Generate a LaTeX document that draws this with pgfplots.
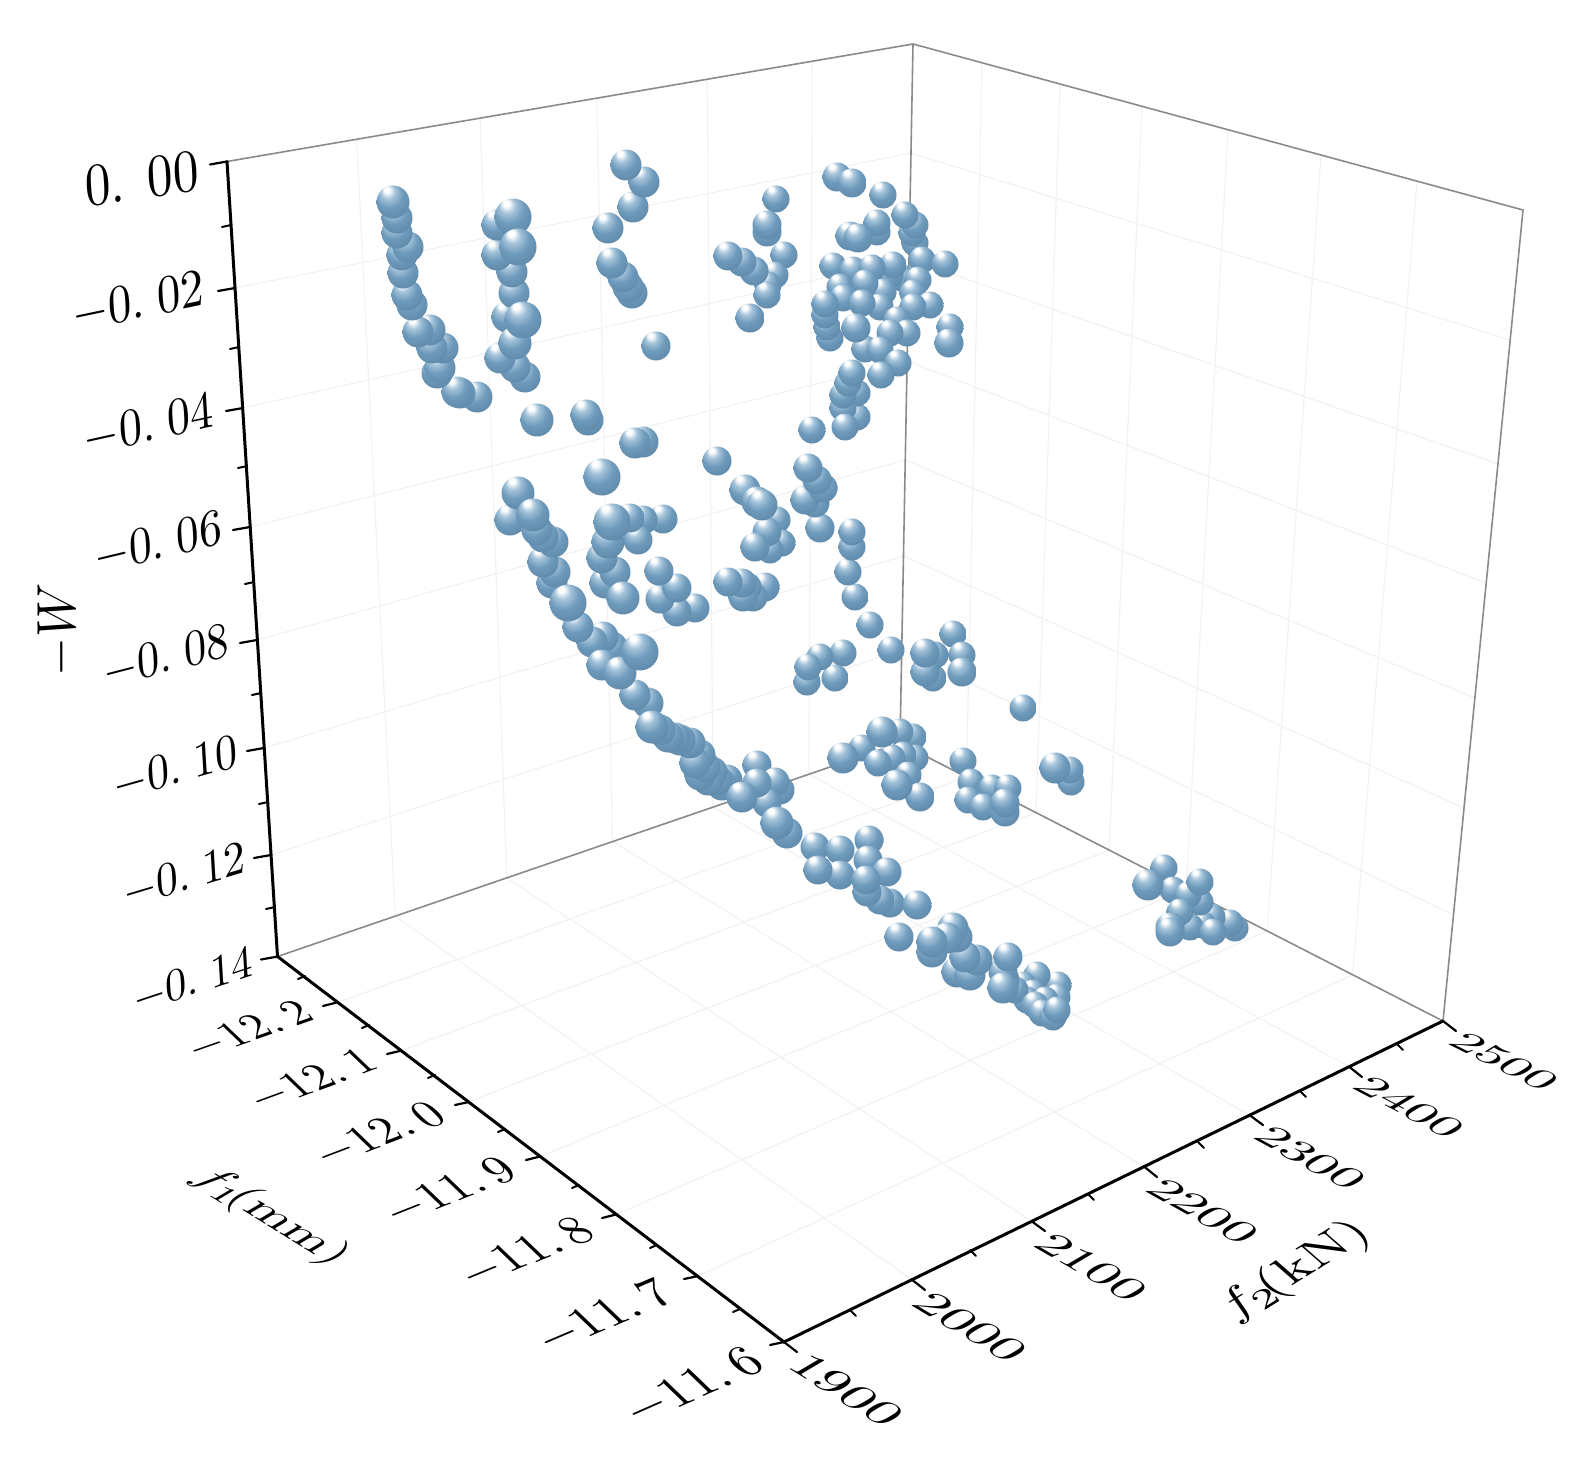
\documentclass[border=0pt]{standalone}
\usepackage{pgfplots}
\pgfplotsset{compat=1.18}
\definecolor{gridc}{HTML}{F2F2F2}
\definecolor{framec}{HTML}{8A8A8A}
\definecolor{ball1}{HTML}{A4C3DA}
\definecolor{ball2}{HTML}{6E9ABB}
\definecolor{ball3}{HTML}{5A83A3}
\definecolor{ball4}{HTML}{6C94B2}
% soft ball, lighter than tikz's own, which runs to black at the rim
\pgfdeclareradialshading{softball}{\pgfpoint{-10bp}{20bp}}{
  color(0bp)=(white); color(4bp)=(white); color(11bp)=(ball1);
  color(21bp)=(ball2); color(38bp)=(ball3); color(50bp)=(ball4)}
\pgfdeclareplotmark{softball}{%
  \pgfpathcircle{\pgfpointorigin}{\pgfplotmarksize}%
  \pgfshadepath{softball}{0}%
  \pgfusepath{discard}}
% The 3D box is drawn as seen: every position is in image pixels, y pointing down.
\pgfplotsset{
  balls/.style={only marks, mark=softball, mark size=#1pt},
  seg/.style={no markers, line cap=round},
}
\begin{document}
\begin{tikzpicture}[every node/.style={inner sep=0pt}]
\begin{axis}[
  scale only axis, width=1582pt, height=1466pt,
  xmin=0, xmax=1582, ymin=0, ymax=1466, y dir=reverse,
  unbounded coords=jump,
  hide axis, clip=false]
\path (0,0) rectangle (1582,1466);

% grid: floor
\addplot[seg, gridc, line width=1.2pt] coordinates {
 (337.6,1002.3) (966.4,777) (nan,nan) (401,1050.7) (1036,812.6) (nan,nan) (468.7,1102) (1109.2,850.1) (nan,nan)
 (540.2,1156.5) (1186.1,889.5) (nan,nan) (616.3,1214.4) (1267.2,931) (nan,nan) (697.7,1276.1) (1352.7,974.8) (nan,nan)
 (395.2,916.2) (912,1279.7) (nan,nan) (506.7,877.9) (1031.7,1221.3) (nan,nan) (612.5,841.6) (1144.1,1166.6) (nan,nan)
 (713.1,807.1) (1249.7,1115.2) (nan,nan) (808.8,774.3) (1349.1,1066.7)};
% grid: left wall
\addplot[seg, gridc, line width=1.2pt] coordinates {
 (395.2,916.2) (356.7,139.3) (nan,nan) (506.7,877.9) (480.1,118.1) (nan,nan) (612.5,841.6) (596.8,98.2) (nan,nan)
 (713.1,807.1) (707.2,79.3) (nan,nan) (808.8,774.3) (812.2,61.3) (nan,nan)
 (235,288) (911,153) (nan,nan) (242.7,408) (909,259) (nan,nan) (250.2,527) (907.1,361) (nan,nan)
 (257.4,640) (905.3,460) (nan,nan) (264.3,748) (903.5,556) (nan,nan) (271,855) (901.7,650)};
% grid: right wall
\addplot[seg, gridc, line width=1.2pt] coordinates {
 (966.4,777) (982,62.8) (nan,nan) (1036,812.6) (1060,84) (nan,nan) (1109.2,850.1) (1142,106.3) (nan,nan)
 (1186.1,889.5) (1228,129.7) (nan,nan) (1267.2,931) (1321,155) (nan,nan) (1352.7,974.8) (1417,181) (nan,nan)
 (911,153) (1510.2,340) (nan,nan) (909,259) (1498,464) (nan,nan) (907.1,361) (1486.2,583) (nan,nan)
 (905.3,460) (1474.9,698) (nan,nan) (903.5,556) (1464,808) (nan,nan) (901.7,650) (1453.5,915)};

% box edges at the back
\addplot[seg, framec, line width=1.6pt] coordinates {
 (227,161.5) (913,44) (1523,210) (1443,1021) (nan,nan) (913,44) (900,743) (nan,nan) (277.5,956.5) (900,743) (1443,1021)};

% axes and ticks
\addplot[seg, black, line width=3pt] coordinates {(227,161.5) (277.5,956.5) (784,1342) (1443,1021)};
\addplot[seg, black, line width=2.2pt] coordinates {
 (210,164.5) (227,161.5) (nan,nan) (218,291) (235,288) (nan,nan) (226,411) (243,408) (nan,nan) (233,530) (250,527) (nan,nan)
 (240,643) (257,640) (nan,nan) (247,751) (264,748) (nan,nan) (254,858) (271,855) (nan,nan) (261,959.5) (278,956.5) (nan,nan)
 (323,1006) (337.6,1002.3) (nan,nan) (387,1054) (401,1050.7) (nan,nan) (455,1105) (468.7,1102) (nan,nan)
 (526,1160) (540.2,1156.5) (nan,nan) (602,1218) (616.3,1214.4) (nan,nan) (684,1279) (697.7,1276.1) (nan,nan) (770,1345) (784,1342) (nan,nan)
 (784,1342) (797,1352) (nan,nan) (912,1279.7) (925,1290) (nan,nan) (1031.7,1221.3) (1045,1231) (nan,nan) (1144.1,1166.6) (1157,1177) (nan,nan)
 (1249.7,1115.2) (1263,1125) (nan,nan) (1349.1,1066.7) (1362,1077) (nan,nan) (1443,1021) (1456,1031)};
\addplot[seg, black, line width=2pt] coordinates {
 (222,227) (231,225) (nan,nan) (230,349) (239,347) (nan,nan) (238,468) (247,466) (nan,nan) (245,584) (254,582) (nan,nan)
 (252,695) (261,693) (nan,nan) (259,804) (268,802) (nan,nan) (266,909) (275,907) (nan,nan)
 (298,979) (305,976) (nan,nan) (362,1028) (369,1025) (nan,nan) (428,1078) (435,1075) (nan,nan) (498,1132) (505,1129) (nan,nan)
 (572,1188) (579,1185) (nan,nan) (650,1248) (657,1245) (nan,nan) (733,1312) (740,1309) (nan,nan)
 (850,1310) (856,1316) (nan,nan) (970,1250) (976,1256) (nan,nan) (1088,1194) (1094,1200) (nan,nan)
 (1198,1142) (1204,1148) (nan,nan) (1300,1091) (1306,1097) (nan,nan) (1397,1044) (1403,1050)};

% points, far and small ones first
\addplot[balls=13.5] coordinates {
 (776,199) (883,195) (915,243) (912,233) (915,225) (905,215) (877,232) (877,223) (922,260) (945,264) (833,266)
 (902,278) (918,280) (890,275) (893,265) (853,270) (872,268) (840,287) (883,292) (865,283) (913,293) (843,298)
 (930,305) (913,307) (880,307) (862,303) (830,338) (827,327) (825,315) (825,304) (897,320) (907,333) (890,333)
 (865,349) (880,350) (898,363) (881,375) (950,327) (857,417) (857,393) (843,408) (843,395) (848,383) (852,373)
 (845,427) (812,430) (784,255) (775,275) (768,285) (767,295) (777,520) (782,543) (770,550)
 (855,597) (848,572) (852,547) (852,532) (870,625) (843,653) (835,678) (820,657) (807,682) (808,667)
 (891,650) (953,634) (962,655) (933,678) (935,655) (1023,708) (862,748) (913,737) (900,732) (915,758) (903,755)
 (892,758) (878,763) (908,775) (963,761) (971,782) (968,800) (992,788) (983,807) (1008,788)
 (1071,782) (1070,770) (1058,985) (1057,997) (1037,975) (1023,985) (1033,993) (1027,1000) (1045,1000) (1015,990) (1035,1005) (1042,1013) (1053,1017) (1057,1010)
 (1164,868) (1173,890) (1235,928) (1230,923) (1212,917) (1203,925) (1190,927) (1200,902) (1188,895) (1200,882) (1180,912) (1213,932)};
\addplot[balls=14.5] coordinates {
 (837,177) (852,183) (767,232) (767,225) (754,271) (742,262) (728,256) (750,318) (850,236) (858,238) (856,328)
 (949,343) (820,528) (815,503) (805,500) (823,488) (817,480) (808,468) (767,532) (755,547)
 (765,587) (753,597) (747,587) (743,597) (742,583) (728,582) (717,461) (695,608) (677,612) (660,599) (677,588) (659,571)
 (663,519) (643,520) (638,540) (630,518) (656,346) (757,765) (780,790) (775,782) (767,803) (757,783)
 (920,797) (925,672) (925,653) (962,672) (1005,812) (1005,803) (815,847) (840,850) (869,840) (840,875) (818,870)
 (868,860) (887,872) (890,903) (880,900) (867,892) (866,880) (917,905) (899,937)
 (1005,980) (1003,972) (1008,957) (1170,927) (1170,932) };
\addplot[balls=15.5] coordinates {
 (477,397) (460,393) (457,392) (437,373) (440,368) (443,348) (432,348) (430,330) (418,332) (412,305) (407,295) (403,273) (402,255) (408,247)
 (525,377) (515,367) (500,358) (507,317) (514,293) (512,272) (497,255) (497,225)
 (632,293) (628,287) (623,277) (612,263) (608,228) (633,207) (644,182) (626,165) (643,442) (635,443) (588,420) (586,415)
 (745,490) (757,502) (762,505) (727,780) (722,785) (717,780) (712,772) (708,780) (700,775) (705,767) (700,755) (695,763) (690,743) (680,740) (675,738) (668,737) (660,730) (648,703) (635,695)
 (742,797) (843,758) (897,785) (882,732) (1055,768) (1148,885) (957,972) (970,975) (977,960) (965,957) (957,937) (953,928) (947,938) (932,952) (932,942)
 (1003,988) (787,833)
 (510,520) (612,647) (603,637) (592,642) (602,665) (578,627) (552,583) (555,572) (543,562) (553,542) (543,537) (537,530)
 (605,583) (615,572) (602,558)};
\addplot[balls=16.5] coordinates {
 (537,420) (515,343) (518,493) (533,515) (623,598) (608,542) (652,727) (620,673) (777,823)};
\addplot[balls=15.5] coordinates {(397,233) (397,218)};
\addplot[balls=16.5] coordinates {(393,202)};
\addplot[balls=18.5] coordinates {
 (513,217) (518,247) (523,320) (602,477) (568,603) (640,652)  (612,522)};

% tick labels of -W
\node[cm={5.1,.77,-.36,6,(0pt,0pt)}] at (142,179) {$0.\;\,00$};
\node[cm={4.63,.97,-.32,5.4,(0pt,0pt)}] at (138,303) {$-0.\;02$};
\node[cm={4.55,1.0,-.32,5.3,(0pt,0pt)}] at (148.5,426) {$-0.\;04$};
\node[cm={4.5,1.08,-.31,5.2,(0pt,0pt)}] at (158,544) {$-0.\;06$};
\node[cm={4.4,1.14,-.31,5.1,(0pt,0pt)}] at (166,658) {$-0.\;08$};
\node[cm={4.35,1.22,-.3,5,(0pt,0pt)}] at (175.5,770) {$-0.\;10$};
\node[cm={4.3,1.29,-.29,4.8,(0pt,0pt)}] at (184.5,877) {$-0.\;12$};
\node[cm={4.2,1.39,-.28,4.6,(0pt,0pt)}] at (193,982) {$-0.\;14$};
% tick labels of f1
\node[cm={4.34,1.52,-3.2,3.06,(0pt,0pt)}] at (249,1031) {$-12.\,2$};
\node[cm={4.41,1.62,-3.28,3.14,(0pt,0pt)}] at (312,1081) {$-12.\,1$};
\node[cm={4.48,1.71,-3.36,3.22,(0pt,0pt)}] at (379,1135) {$-12.\,0$};
\node[cm={4.55,1.81,-3.45,3.3,(0pt,0pt)}] at (449.5,1192) {$-11.\,9$};
\node[cm={4.62,1.91,-3.54,3.38,(0pt,0pt)}] at (526,1253) {$-11.\,8$};
\node[cm={4.69,2.0,-3.62,3.46,(0pt,0pt)}] at (604,1317) {$-11.\,7$};
\node[cm={4.76,2.1,-3.7,3.55,(0pt,0pt)}] at (693,1387) {$-11.\,6$};
% tick labels of f2
\node[cm={4.93,-3.06,3.74,2.2,(0pt,0pt)}] at (846.5,1390) {1900};
\node[cm={4.93,-2.96,3.65,2.15,(0pt,0pt)}] at (971,1327) {2000};
\node[cm={4.9,-2.85,3.55,2.1,(0pt,0pt)}] at (1091.5,1267) {2100};
\node[cm={4.88,-2.75,3.45,2.05,(0pt,0pt)}] at (1203,1211) {2200};
\node[cm={4.86,-2.65,3.35,2,(0pt,0pt)}] at (1310.6,1158) {2300};
\node[cm={4.85,-2.55,3.25,1.95,(0pt,0pt)}] at (1410,1107) {2400};
\node[cm={4.83,-2.41,3.15,1.9,(0pt,0pt)}] at (1504.6,1061) {2500};
% axis titles
\node[cm={0,5,-5.5,0,(0pt,0pt)}] at (59,630) {$-W$};
\node[cm={4.42,-2.75,3.74,2.2,(0pt,0pt)}] at (271,1216) {$f_1\!$(mm)};
\node[cm={4.93,3.06,-3.4,2.97,(0pt,0pt)}] at (1295,1271) {$f_2\!$(kN)};
\end{axis}
\end{tikzpicture}
\end{document}
